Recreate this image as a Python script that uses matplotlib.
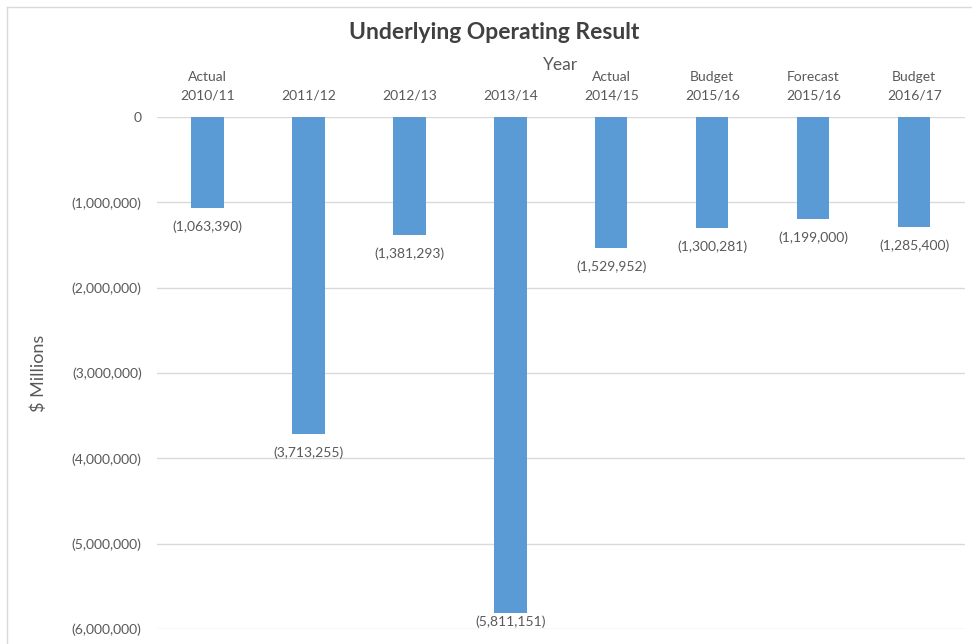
import matplotlib
matplotlib.use('Agg')
import matplotlib.pyplot as plt
import matplotlib.ticker as mticker
from matplotlib.lines import Line2D

# chart data
categories = ['Actual\n2010/11', '2011/12', '2012/13', '2013/14',
              'Actual\n2014/15', 'Budget\n2015/16', 'Forecast\n2015/16',
              'Budget\n2016/17']
results = [-1063390, -3713255, -1381293, -5811151,
           -1529952, -1300281, -1199000, -1285400]
yticks = [0, -1000000, -2000000, -3000000, -4000000, -5000000, -6000000]

barColor = '#5B9BD5'
textColor = '#595959'
gridColor = '#D9D9D9'

plt.rcParams['font.family'] = ['Lato', 'DejaVu Sans']

def parenFmt(v, pos=None):
     # accounting style: negatives in brackets
     if v == 0:
          return '0'
     if v < 0:
          return '({:,.0f})'.format(-v)
     return '{:,.0f}'.format(v)

fig = plt.figure(figsize=(9.72, 6.44), dpi=100)
ax = fig.add_axes([0.1615, 0.0233, 0.831, 0.795])

xs = list(range(len(categories)))
ax.bar(xs, results, width=0.32, color=barColor, zorder=3)

ymin, ymax = -6000000, 0
ax.set_xlim(-0.5, len(categories) - 0.5)
ax.set_ylim(ymin, ymax)

# data labels under each bar end, kept inside the plot area
for x, v in zip(xs, results):
     if v - 250000 < ymin:
          ax.annotate(parenFmt(v), (x, ymin), xytext=(0, 1), textcoords='offset points',
                      ha='center', va='bottom', fontsize=10, color=textColor, zorder=4)
     else:
          ax.annotate(parenFmt(v), (x, v), xytext=(0, -9), textcoords='offset points',
                      ha='center', va='top', fontsize=10, color=textColor, zorder=4)

ax.set_yticks(yticks)
ax.yaxis.set_major_formatter(mticker.FuncFormatter(parenFmt))
ax.yaxis.grid(True, color=gridColor, linewidth=1, zorder=0)

ax.xaxis.tick_top()
ax.set_xticks(xs)
ax.set_xticklabels(categories, fontsize=10, color=textColor, linespacing=1.65)
ax.xaxis.set_label_position('top')
ax.set_xlabel('Year', fontsize=12.5, color=textColor, labelpad=1)
ax.set_ylabel('$ Millions', fontsize=13, color=textColor, labelpad=18)

ax.tick_params(axis='both', length=0, colors=textColor)
ax.tick_params(axis='y', labelsize=10, pad=11)
ax.tick_params(axis='x', pad=11)
for s in ax.spines.values():
     s.set_visible(False)

fig.text(0.508, 0.950, 'Underlying Operating Result', ha='center', va='center',
         fontsize=16.5, fontweight='bold', color='#404040')

# light chart border (only left and top edges show in the crop)
fig.add_artist(Line2D([0.0075, 0.0075], [0.0, 0.989], transform=fig.transFigure,
                      color=gridColor, linewidth=1))
fig.add_artist(Line2D([0.0075, 1.0], [0.989, 0.989], transform=fig.transFigure,
                      color=gridColor, linewidth=1))

fig.savefig('out.png', dpi=100)
